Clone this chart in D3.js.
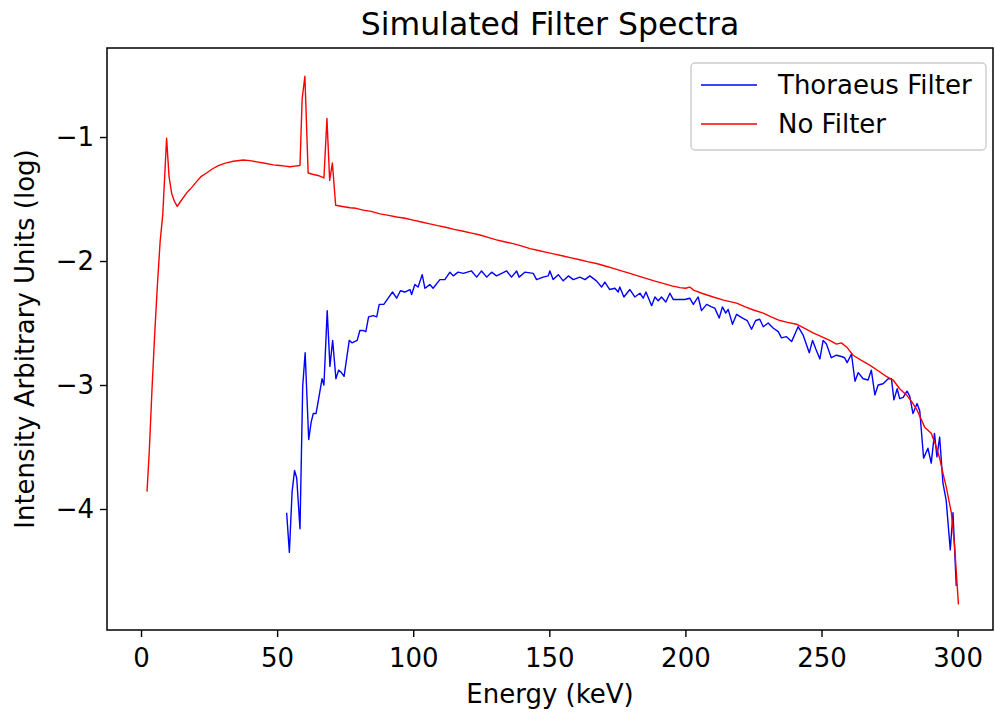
<!DOCTYPE html>
<html>
<head>
<meta charset="utf-8">
<script src="https://cdn.jsdelivr.net/npm/d3@7"></script>
<style>
  html, body { margin: 0; padding: 0; background: #fff; }
  svg { display: block; font-family: "DejaVu Sans", sans-serif; }
</style>
</head>
<body>
<svg id="chart" width="995" height="717"></svg>
<script>
// =============================================================================
// DATA
// =============================================================================

const noFilterKeV = [2.2, 3, 4, 5, 6, 7, 8, 9.4, 10.3, 11.3, 12.3, 13.3, 14.5, 16.8, 18.5, 20.4, 22, 24.1, 26, 28.4,
    31, 33.9, 37.6, 40, 42.5, 45, 48.6, 51, 53, 54.7, 56.5, 58.4, 59.2, 60.2, 61.4, 63, 65, 67.2, 68.3, 69.3,
    70.3, 71.5, 74, 76.8, 79, 81.6, 84.5, 87.8, 90.5, 93.9, 97, 100, 103, 106.1, 109, 112.3, 115, 118.4, 121.5, 124.5,
    127.5, 130.6, 133.5, 136.7, 140, 142.9, 146, 149, 152, 155.1, 158, 161.2, 164, 167.3, 170.5, 173.5, 176.5, 179.6, 182.5, 185.5,
    188.5, 191.8, 195, 198, 200, 201.6, 203, 206, 210.2, 214, 218.8, 222, 225, 228.6, 231.5, 234.7, 237.5, 240.8, 244, 246.9,
    250, 253, 255.5, 257.3, 259.5, 261.6, 264.5, 267.7, 270.8, 273.8, 276.3, 278.7, 281.2, 283, 284.8, 286.5, 287.9, 290.3, 292.2, 293.5,
    294.6, 295.8, 297.7, 298.9, 300.3];
const noFilterLog = [-3.86, -3.55, -3.05, -2.6, -2.2, -1.85, -1.62, -1.01, -1.32, -1.46, -1.52, -1.56, -1.52, -1.45, -1.41, -1.36, -1.32, -1.29, -1.26, -1.23,
    -1.21, -1.195, -1.185, -1.19, -1.2, -1.21, -1.225, -1.23, -1.235, -1.24, -1.235, -1.23, -0.69, -0.51, -1.29, -1.3, -1.31, -1.33, -0.85, -1.35,
    -1.21, -1.55, -1.56, -1.57, -1.575, -1.59, -1.6, -1.62, -1.63, -1.645, -1.655, -1.67, -1.685, -1.7, -1.715, -1.73, -1.745, -1.76, -1.775, -1.79,
    -1.81, -1.83, -1.845, -1.86, -1.88, -1.9, -1.915, -1.93, -1.945, -1.96, -1.975, -1.99, -2.005, -2.02, -2.04, -2.06, -2.08, -2.1, -2.12, -2.14,
    -2.16, -2.18, -2.2, -2.215, -2.22, -2.21, -2.235, -2.26, -2.29, -2.315, -2.34, -2.37, -2.395, -2.42, -2.45, -2.48, -2.495, -2.51, -2.545, -2.58,
    -2.61, -2.64, -2.67, -2.66, -2.7, -2.76, -2.8, -2.84, -2.885, -2.93, -2.96, -3.03, -3.08, -3.13, -3.19, -3.27, -3.34, -3.39, -3.5, -3.6,
    -3.71, -3.82, -4.03, -4.3, -4.77];

const thoraeusKeV = [53.5, 54.5, 55.5, 56.4, 57.2, 58.4, 59.4, 60.3, 61.6, 62.5, 63.3, 64.3, 65.5, 66.5, 67.2, 68.4, 69.4, 70.4, 71.6, 72.6,
    73.6, 74.6, 76.5, 77.5, 79.4, 80.4, 81.6, 82.6, 83.6, 85.3, 86.6, 87.5, 89.2, 90.8, 92.4, 93.9, 95.3, 96.9, 98.8, 99.4,
    100.6, 101.8, 103.3, 104.3, 106.1, 107.3, 109.8, 111.6, 113.5, 114.7, 116.5, 118.4, 121.4, 123.3, 125.1, 127, 128.8, 130.6, 132.5, 134.3,
    136.1, 138, 138.9, 141, 144.1, 145.3, 147.7, 149.6, 150.2, 151.4, 153.3, 155.1, 157, 158.8, 161.2, 163.1, 164.9, 167.3, 169.2, 170.4,
    172.2, 174.1, 175.3, 175.9, 177.4, 179.6, 181.4, 183.3, 184.5, 185.5, 187.6, 188.8, 190, 191.2, 192.8, 194.3, 195.5, 197.3, 199.8, 201.6,
    202.9, 204.7, 205.9, 207.8, 209.6, 210.8, 212.4, 213.6, 214.8, 215.7, 217.3, 218.8, 221, 222.7, 224.3, 225.8, 227.3, 228.6, 230.4, 232.2,
    234.1, 235.3, 237.1, 239, 240.2, 241.4, 243.3, 245.5, 246.7, 247.9, 249.4, 250.6, 251.8, 253.6, 255.5, 257.3, 258.5, 259.4, 261, 262.3,
    263.5, 265.3, 267.1, 268.3, 269.6, 270.8, 272.6, 274.5, 275.7, 276.6, 277.8, 278.7, 280, 281.4, 282.4, 283.6, 285.1, 286.1, 287.5, 289.1,
    290.3, 291.5, 292.4, 293.4, 294.6, 295.8, 297.3, 298.3, 299.5];
const thoraeusLog = [-4.03, -4.35, -3.86, -3.69, -3.75, -4.16, -3.01, -2.74, -3.44, -3.3, -3.23, -3.23, -3.08, -2.95, -3.0, -2.4, -2.85, -2.64, -2.95, -2.88,
    -2.9, -2.93, -2.64, -2.66, -2.64, -2.56, -2.56, -2.57, -2.45, -2.44, -2.45, -2.35, -2.35, -2.3, -2.25, -2.3, -2.24, -2.25, -2.23, -2.27,
    -2.19, -2.21, -2.11, -2.22, -2.19, -2.22, -2.15, -2.15, -2.09, -2.12, -2.09, -2.1, -2.08, -2.13, -2.08, -2.13, -2.09, -2.12, -2.1, -2.08,
    -2.13, -2.08, -2.13, -2.09, -2.1, -2.15, -2.13, -2.12, -2.08, -2.15, -2.11, -2.16, -2.12, -2.15, -2.13, -2.15, -2.12, -2.16, -2.21, -2.17,
    -2.23, -2.22, -2.25, -2.21, -2.29, -2.23, -2.29, -2.26, -2.3, -2.25, -2.36, -2.29, -2.32, -2.29, -2.33, -2.26, -2.31, -2.31, -2.31, -2.3,
    -2.35, -2.29, -2.4, -2.35, -2.37, -2.38, -2.46, -2.37, -2.42, -2.39, -2.51, -2.43, -2.46, -2.48, -2.55, -2.48, -2.47, -2.53, -2.5, -2.54,
    -2.57, -2.62, -2.61, -2.65, -2.59, -2.53, -2.6, -2.74, -2.64, -2.71, -2.79, -2.64, -2.67, -2.78, -2.76, -2.77, -2.78, -2.82, -2.75, -2.97,
    -2.9, -2.95, -2.96, -2.88, -3.08, -3.0, -2.99, -2.95, -2.95, -3.12, -3.03, -3.11, -3.1, -3.05, -3.09, -3.23, -3.15, -3.21, -3.59, -3.51,
    -3.63, -3.39, -3.58, -3.42, -3.79, -3.93, -4.33, -4.03, -4.62];

const xTicks = [0, 50, 100, 150, 200, 250, 300];
const yTicks = [-1, -2, -3, -4];

const seriesNames = ['Thoraeus Filter', 'No Filter'];
const seriesColors = ['#0000ff', '#ff0000'];

// =============================================================================
// CHART
// =============================================================================

function renderSpectra() {
    const svg = d3.select('#chart');
    const margin = { top: 48, right: 2, bottom: 87, left: 107 };
    const W = 995, H = 717;
    const width = W - margin.left - margin.right;
    const height = H - margin.top - margin.bottom;
    const tickFont = '26px';

    const g = svg.append('g').attr('transform', `translate(${margin.left},${margin.top})`);

    const x = d3.scaleLinear().domain([-12.5, 313]).range([0, width]);
    const y = d3.scaleLinear().domain([-4.976, -0.282]).range([height, 0]);

    const fmt = d => String(d).replace('-', '\u2212');

    // X axis
    g.append('g')
        .attr('transform', `translate(0,${height})`)
        .call(d3.axisBottom(x).tickValues(xTicks).tickSize(7).tickPadding(12).tickFormat(fmt))
        .call(ax => ax.select('.domain').remove())
        .call(ax => ax.selectAll('.tick line').attr('stroke', '#000').attr('stroke-width', 1.4))
        .call(ax => ax.selectAll('text').attr('font-size', tickFont).attr('fill', '#000')
            .attr('font-family', '"DejaVu Sans", sans-serif'));

    // Y axis
    g.append('g')
        .call(d3.axisLeft(y).tickValues(yTicks).tickSize(7).tickPadding(6).tickFormat(fmt))
        .call(ax => ax.select('.domain').remove())
        .call(ax => ax.selectAll('.tick line').attr('stroke', '#000').attr('stroke-width', 1.4))
        .call(ax => ax.selectAll('text').attr('font-size', tickFont).attr('fill', '#000')
            .attr('font-family', '"DejaVu Sans", sans-serif'));

    // Lines
    const line = d3.line().x(d => x(d[0])).y(d => y(d[1]));
    const series = [
        d3.zip(thoraeusKeV, thoraeusLog),
        d3.zip(noFilterKeV, noFilterLog),
    ];

    series.forEach((pts, i) => {
        g.append('path')
            .datum(pts)
            .attr('fill', 'none')
            .attr('stroke', seriesColors[i])
            .attr('stroke-width', 1.4)
            .attr('stroke-linejoin', 'round')
            .attr('d', line);
    });

    // Frame
    g.append('rect')
        .attr('width', width).attr('height', height)
        .attr('fill', 'none').attr('stroke', '#000').attr('stroke-width', 1.5);

    // Title + axis labels
    svg.append('text')
        .attr('x', margin.left + width / 2).attr('y', 35)
        .attr('text-anchor', 'middle').attr('font-size', '31.5px')
        .text('Simulated Filter Spectra');

    svg.append('text')
        .attr('x', margin.left + width / 2).attr('y', 703)
        .attr('text-anchor', 'middle').attr('font-size', '26px')
        .text('Energy (keV)');

    svg.append('text')
        .attr('transform', `translate(34,${margin.top + height / 2}) rotate(-90)`)
        .attr('text-anchor', 'middle').attr('font-size', '26px')
        .text('Intensity Arbitrary Units (log)');

    // Legend
    const lg = svg.append('g').attr('transform', 'translate(691,63)');
    lg.append('rect')
        .attr('width', 295).attr('height', 87).attr('rx', 4)
        .attr('fill', '#fff').attr('fill-opacity', 0.8)
        .attr('stroke', '#cccccc').attr('stroke-width', 1.4);

    seriesNames.forEach((name, i) => {
        const yy = 22 + i * 39;
        lg.append('line')
            .attr('x1', 10).attr('x2', 66).attr('y1', yy).attr('y2', yy)
            .attr('stroke', seriesColors[i]).attr('stroke-width', 1.4);
        lg.append('text')
            .attr('x', 87).attr('y', yy + 9)
            .attr('font-size', '26px')
            .text(name);
    });
}

renderSpectra();
</script>
</body>
</html>
